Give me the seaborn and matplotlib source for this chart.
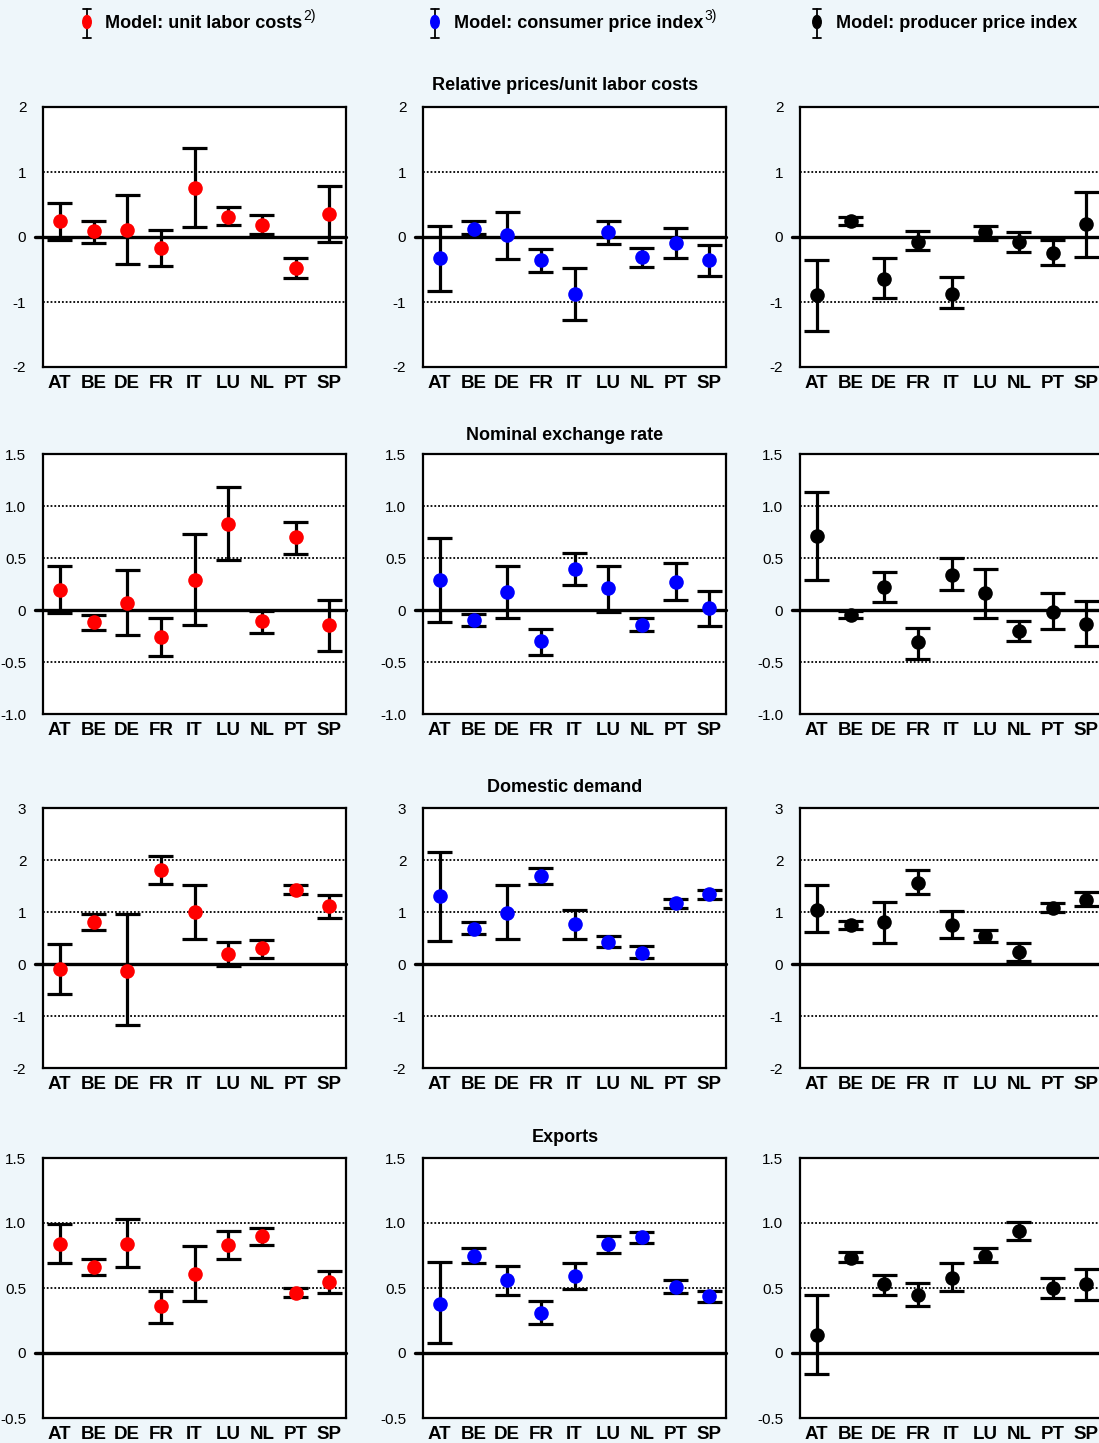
import numpy as np
import pandas as pd
import matplotlib
matplotlib.use("Agg")
import matplotlib.pyplot as plt
from matplotlib.patches import Ellipse
import seaborn as sns

# ---------------- data ----------------
countries = ["AT", "BE", "DE", "FR", "IT", "LU", "NL", "PT", "SP"]
model_labels = ["Model: unit labor costs", "Model: consumer price index", "Model: producer price index"]
model_sups = ["2)", "3)", ""]
model_colors = ["#FF0000", "#0000FF", "#000000"]
panel_titles = ["Relative prices/unit labor costs", "Nominal exchange rate", "Domestic demand", "Exports"]

# Row 1: relative prices / unit labor costs
relp_ulc    = [0.25, 0.09, 0.11, -0.17, 0.76, 0.31, 0.19, -0.48, 0.36]
relp_ulc_lo = [-0.04, -0.09, -0.42, -0.45, 0.15, 0.18, 0.04, -0.63, -0.07]
relp_ulc_hi = [0.52, 0.24, 0.64, 0.11, 1.37, 0.46, 0.34, -0.33, 0.78]
relp_cpi    = [-0.33, 0.13, 0.03, -0.36, -0.88, 0.07, -0.31, -0.09, -0.36]
relp_cpi_lo = [-0.83, 0.04, -0.34, -0.54, -1.28, -0.11, -0.46, -0.32, -0.60]
relp_cpi_hi = [0.17, 0.24, 0.39, -0.18, -0.47, 0.24, -0.17, 0.14, -0.13]
relp_ppi    = [-0.90, 0.25, -0.64, -0.07, -0.87, 0.07, -0.08, -0.24, 0.20]
relp_ppi_lo = [-1.45, 0.19, -0.94, -0.20, -1.10, -0.04, -0.23, -0.43, -0.30]
relp_ppi_hi = [-0.36, 0.31, -0.33, 0.09, -0.62, 0.17, 0.08, -0.05, 0.70]

# Row 2: nominal exchange rate
nexr_ulc    = [0.19, -0.12, 0.07, -0.26, 0.29, 0.83, -0.11, 0.70, -0.14]
nexr_ulc_lo = [-0.03, -0.19, -0.24, -0.44, -0.14, 0.48, -0.22, 0.54, -0.39]
nexr_ulc_hi = [0.42, -0.05, 0.38, -0.08, 0.73, 1.18, -0.01, 0.85, 0.10]
nexr_cpi    = [0.29, -0.10, 0.17, -0.30, 0.39, 0.21, -0.14, 0.27, 0.02]
nexr_cpi_lo = [-0.12, -0.15, -0.08, -0.43, 0.24, -0.02, -0.20, 0.10, -0.15]
nexr_cpi_hi = [0.69, -0.04, 0.42, -0.18, 0.55, 0.42, -0.08, 0.45, 0.18]
nexr_ppi    = [0.71, -0.05, 0.22, -0.31, 0.34, 0.16, -0.20, -0.02, -0.13]
nexr_ppi_lo = [0.29, -0.08, 0.08, -0.47, 0.19, -0.08, -0.30, -0.18, -0.35]
nexr_ppi_hi = [1.13, -0.01, 0.37, -0.17, 0.50, 0.39, -0.11, 0.16, 0.09]

# Row 3: domestic demand
ddem_ulc    = [-0.10, 0.81, -0.13, 1.80, 1.00, 0.20, 0.30, 1.43, 1.11]
ddem_ulc_lo = [-0.57, 0.65, -1.18, 1.53, 0.48, -0.03, 0.12, 1.34, 0.89]
ddem_ulc_hi = [0.38, 0.96, 0.96, 2.07, 1.51, 0.43, 0.46, 1.52, 1.32]
ddem_cpi    = [1.30, 0.68, 0.99, 1.69, 0.76, 0.43, 0.22, 1.17, 1.34]
ddem_cpi_lo = [0.45, 0.57, 0.49, 1.53, 0.48, 0.32, 0.11, 1.08, 1.25]
ddem_cpi_hi = [2.16, 0.81, 1.51, 1.85, 1.04, 0.54, 0.34, 1.25, 1.43]
ddem_ppi    = [1.04, 0.75, 0.80, 1.56, 0.75, 0.54, 0.24, 1.08, 1.24]
ddem_ppi_lo = [0.61, 0.67, 0.41, 1.34, 0.50, 0.43, 0.06, 1.00, 1.11]
ddem_ppi_hi = [1.51, 0.82, 1.19, 1.80, 1.01, 0.65, 0.41, 1.17, 1.38]

# Row 4: exports
expo_ulc    = [0.84, 0.66, 0.84, 0.36, 0.61, 0.83, 0.90, 0.46, 0.55]
expo_ulc_lo = [0.69, 0.60, 0.66, 0.23, 0.40, 0.72, 0.83, 0.43, 0.46]
expo_ulc_hi = [0.99, 0.72, 1.03, 0.48, 0.82, 0.94, 0.96, 0.50, 0.63]
expo_cpi    = [0.38, 0.75, 0.56, 0.31, 0.59, 0.84, 0.89, 0.51, 0.44]
expo_cpi_lo = [0.08, 0.69, 0.45, 0.22, 0.49, 0.77, 0.85, 0.46, 0.39]
expo_cpi_hi = [0.70, 0.81, 0.67, 0.40, 0.69, 0.90, 0.93, 0.56, 0.48]
expo_ppi    = [0.14, 0.73, 0.53, 0.45, 0.58, 0.75, 0.94, 0.50, 0.53]
expo_ppi_lo = [-0.16, 0.70, 0.45, 0.36, 0.48, 0.70, 0.87, 0.42, 0.41]
expo_ppi_hi = [0.45, 0.78, 0.60, 0.54, 0.69, 0.81, 1.01, 0.58, 0.65]

row_yticks = [
    [-2, -1, 0, 1, 2],
    [-1.0, -0.5, 0, 0.5, 1.0, 1.5],
    [-2, -1, 0, 1, 2, 3],
    [-0.5, 0, 0.5, 1.0, 1.5],
]
row_yticklabels = [
    ["-2", "-1", "0", "1", "2"],
    ["-1.0", "-0.5", "0", "0.5", "1.0", "1.5"],
    ["-2", "-1", "0", "1", "2", "3"],
    ["-0.5", "0", "0.5", "1.0", "1.5"],
]

panels = [
    [(relp_ulc, relp_ulc_lo, relp_ulc_hi), (relp_cpi, relp_cpi_lo, relp_cpi_hi), (relp_ppi, relp_ppi_lo, relp_ppi_hi)],
    [(nexr_ulc, nexr_ulc_lo, nexr_ulc_hi), (nexr_cpi, nexr_cpi_lo, nexr_cpi_hi), (nexr_ppi, nexr_ppi_lo, nexr_ppi_hi)],
    [(ddem_ulc, ddem_ulc_lo, ddem_ulc_hi), (ddem_cpi, ddem_cpi_lo, ddem_cpi_hi), (ddem_ppi, ddem_ppi_lo, ddem_ppi_hi)],
    [(expo_ulc, expo_ulc_lo, expo_ulc_hi), (expo_cpi, expo_cpi_lo, expo_cpi_hi), (expo_ppi, expo_ppi_lo, expo_ppi_hi)],
]

# ---------------- style ----------------
sns.set_style("white")
plt.rcParams["font.family"] = ["Liberation Sans", "DejaVu Sans"]
plt.rcParams["mathtext.fontset"] = "custom"
plt.rcParams["mathtext.rm"] = "Liberation Sans"
plt.rcParams["text.color"] = "black"
plt.rcParams["axes.labelcolor"] = "black"
plt.rcParams["xtick.color"] = "black"
plt.rcParams["ytick.color"] = "black"

W, H = 1099, 1443
BG = "#EEF6FA"
fig = plt.figure(figsize=(W / 100, H / 100), dpi=100, facecolor=BG)

col_left = [43, 423, 800]
ax_w = 303
row_top = [107, 454, 808, 1158]
ax_h = 260


def long_frame(mid, lo, hi):
    recs = []
    for c, m, l, h in zip(countries, mid, lo, hi):
        for v in (l, m, h):
            recs.append({"country": c, "value": v})
    return pd.DataFrame(recs)


for r in range(4):
    for c in range(3):
        left = col_left[c] / W
        bottom = 1 - (row_top[r] + ax_h) / H
        ax = fig.add_axes([left, bottom, ax_w / W, ax_h / H])
        ax.set_facecolor("white")
        mid, lo, hi = panels[r][c]
        df = long_frame(mid, lo, hi)
        sns.pointplot(
            data=df, x="country", y="value", order=countries,
            estimator="median", errorbar=("pi", 100),
            capsize=0.74, color=model_colors[c],
            linestyle="none", marker="o", markersize=10.5,
            markeredgewidth=0, zorder=4,
            err_kws={"color": "black", "linewidth": 2.3, "zorder": 3,
                     "solid_capstyle": "butt", "solid_joinstyle": "miter"},
            ax=ax,
        )
        yt = row_yticks[r]
        ax.set_ylim(yt[0], yt[-1])
        ax.set_xlim(-0.5, 8.5)
        ax.set_yticks(yt, row_yticklabels[r], fontsize=11, color="black")
        ax.set_xticks(range(len(countries)), countries, fontsize=13.5,
                      fontweight="bold", color="black")
        ax.tick_params(axis="both", length=0, colors="black")
        ax.tick_params(axis="y", pad=12)
        ax.tick_params(axis="x", pad=6)
        ax.set_xlabel("")
        ax.set_ylabel("")
        for t in yt[1:-1]:
            if t != 0:
                ax.axhline(t, color="black", lw=1.3, ls=(0, (1, 1.1)), zorder=1)
        ax.axhline(0, xmin=-8 / ax_w, xmax=1, color="black", lw=2.4,
                   clip_on=False, zorder=2)
        for s in ax.spines.values():
            s.set_visible(True)
            s.set_color("black")
            s.set_linewidth(1.6)

# panel titles
title_y = [85, 436, 788, 1137]
for r in range(4):
    fig.text(565 / W, 1 - title_y[r] / H, panel_titles[r], ha="center", va="center",
             fontsize=13, fontweight="bold", color="black")

# legend (overlay in pixel coordinates)
lax = fig.add_axes([0, 0, 1, 1], facecolor="none")
lax.set_xlim(0, W)
lax.set_ylim(H, 0)
lax.axis("off")
leg_sym_x = [87, 435, 817]
leg_txt_x = [105, 454, 836]
for i in range(3):
    x = leg_sym_x[i]
    lax.plot([x, x], [9, 38], color="black", lw=1.3)
    lax.plot([x - 4, x + 4], [9, 9], color="black", lw=1.3)
    lax.plot([x - 4, x + 4], [38, 38], color="black", lw=1.3)
    lax.add_patch(Ellipse((x, 22), 8.5, 13, color=model_colors[i], zorder=3))
    t = lax.text(leg_txt_x[i], 24, model_labels[i], ha="left", va="center",
                 fontsize=13, fontweight="bold", color="black")
    if model_sups[i]:
        fig.canvas.draw()
        bb = t.get_window_extent()
        lax.text(bb.x1 / W + 1 / W, 1 - 16 / H, model_sups[i], transform=fig.transFigure,
                 ha="left", va="center", fontsize=10, color="black")

fig.savefig("out.png", dpi=100, facecolor=BG)
